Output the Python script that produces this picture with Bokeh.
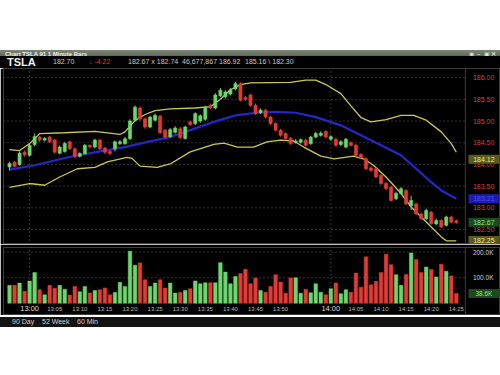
from bokeh.plotting import figure
from bokeh.models import ColumnDataSource, Div, Spacer, Range1d, Span
from bokeh.core.properties import value
from bokeh.layouts import column
from bokeh.embed import file_html
from bokeh.resources import INLINE

FONT = "Liberation Sans"

# ---- data: one bar per minute, minutes after 13:00 (12:56 .. 14:25)
bar_minute = list(range(-4, 86))

opens = [183.94, 184.05, 184.00, 184.28, 184.21, 184.46, 184.63, 184.56, 184.63, 184.56,
         184.26, 184.30, 184.52, 184.36, 184.19, 184.25, 184.44, 184.40, 184.56, 184.38,
         184.30, 184.36, 184.48, 184.48, 184.59, 185.02, 185.30, 185.05, 184.86, 185.02,
         185.11, 184.79, 184.64, 184.74, 184.82, 184.60, 184.98, 184.94, 185.00, 185.04,
         185.36, 185.30, 185.58, 185.56, 185.62, 185.74, 185.86, 185.54, 185.60, 185.36,
         185.19, 185.25, 185.09, 184.94, 184.79, 184.71, 184.60, 184.51, 184.51, 184.56,
         184.48, 184.63, 184.67, 184.76, 184.58, 184.58, 184.46, 184.40, 184.50, 184.44,
         184.23, 184.13, 183.92, 183.90, 183.75, 183.56, 183.48, 183.21, 183.33, 183.40,
         183.05, 183.09, 182.86, 182.75, 182.90, 182.63, 182.71, 182.60, 182.79, 182.70]
closes = [184.02, 183.96, 184.26, 184.22, 184.44, 184.64, 184.56, 184.60, 184.52, 184.28,
          184.40, 184.48, 184.36, 184.19, 184.25, 184.44, 184.40, 184.56, 184.36, 184.28,
          184.25, 184.52, 184.52, 184.59, 185.00, 185.32, 185.05, 184.86, 185.09, 185.13,
          184.73, 184.63, 184.80, 184.84, 184.62, 184.86, 184.92, 185.17, 185.12, 185.32,
          185.30, 185.60, 185.71, 185.67, 185.72, 185.86, 185.48, 185.50, 185.36, 185.17,
          185.25, 185.09, 184.94, 184.79, 184.67, 184.60, 184.48, 184.54, 184.57, 184.44,
          184.63, 184.71, 184.72, 184.63, 184.64, 184.44, 184.52, 184.58, 184.44, 184.21,
          184.15, 183.90, 183.86, 183.71, 183.56, 183.44, 183.17, 183.33, 183.44, 183.09,
          183.17, 182.86, 182.75, 182.94, 182.64, 182.71, 182.56, 182.79, 182.67, 182.66]
highs = [184.06, 184.08, 184.30, 184.32, 184.47, 184.71, 184.66, 184.63, 184.66, 184.59,
         184.43, 184.52, 184.55, 184.39, 184.28, 184.47, 184.46, 184.59, 184.59, 184.41,
         184.33, 184.55, 184.56, 184.63, 185.04, 185.36, 185.34, 185.08, 185.12, 185.17,
         185.14, 184.82, 184.84, 184.88, 184.86, 184.89, 185.01, 185.20, 185.15, 185.35,
         185.40, 185.64, 185.76, 185.71, 185.76, 185.90, 185.89, 185.58, 185.63, 185.40,
         185.29, 185.28, 185.12, 184.97, 184.82, 184.74, 184.63, 184.58, 184.60, 184.59,
         184.66, 184.75, 184.76, 184.79, 184.67, 184.62, 184.56, 184.61, 184.53, 184.47,
         184.26, 184.16, 183.95, 183.93, 183.78, 183.60, 183.51, 183.37, 183.48, 183.43,
         183.28, 183.12, 182.89, 182.98, 182.93, 182.75, 182.74, 182.82, 182.82, 182.73]
lows = [183.86, 183.93, 183.97, 184.18, 184.18, 184.42, 184.52, 184.53, 184.49, 184.25,
        184.23, 184.27, 184.33, 184.15, 184.16, 184.22, 184.37, 184.37, 184.33, 184.24,
        184.21, 184.30, 184.45, 184.45, 184.56, 184.99, 185.01, 184.82, 184.83, 184.99,
        184.70, 184.59, 184.61, 184.71, 184.58, 184.57, 184.89, 184.91, 184.96, 185.01,
        185.27, 185.27, 185.55, 185.52, 185.59, 185.71, 185.45, 185.46, 185.33, 185.14,
        185.16, 185.06, 184.91, 184.76, 184.64, 184.57, 184.45, 184.48, 184.48, 184.41,
        184.45, 184.60, 184.64, 184.60, 184.55, 184.41, 184.42, 184.37, 184.41, 184.18,
        184.12, 183.87, 183.83, 183.68, 183.53, 183.41, 183.14, 183.18, 183.30, 183.06,
        182.95, 182.83, 182.72, 182.72, 182.61, 182.60, 182.53, 182.57, 182.64, 182.63]
volume_k = [70, 70, 79, 47, 87, 120, 53, 33, 70, 59,
            70, 55, 32, 66, 45, 66, 40, 50, 53, 60,
            33, 42, 82, 66, 204, 149, 158, 92, 66, 79,
            92, 60, 79, 40, 42, 50, 57, 87, 76, 80,
            80, 80, 159, 122, 76, 105, 116, 133, 76, 99,
            50, 43, 66, 112, 83, 39, 99, 100, 39, 55,
            41, 76, 43, 33, 57, 79, 37, 53, 43, 118,
            63, 182, 72, 86, 120, 192, 151, 112, 70, 113,
            197, 171, 120, 142, 132, 103, 153, 125, 107, 38.6]

# Bollinger bands and moving average, read at points along each line
upper_t = [-4, -2, 0, 2, 7, 13, 18, 19, 21, 23, 25, 28, 33, 36, 38, 40, 42, 44, 52, 55, 57,
           59, 62, 64, 66, 68, 71, 74, 76.5, 79, 82, 84, 85]
upper_v = [184.34, 184.32, 184.48, 184.71, 184.73, 184.76, 184.69, 184.75, 185.01, 185.15,
           185.24, 185.28, 185.30, 185.33, 185.50, 185.72, 185.84, 185.88, 185.89, 185.94,
           185.94, 185.84, 185.63, 185.35, 185.08, 184.98, 185.03, 185.13, 185.13, 185.02,
           184.75, 184.48, 184.28]
lower_t = [-4, 0, 3, 6, 9.5, 13, 15.5, 19.4, 20.4, 22, 25.4, 28, 32, 36.7, 38.7, 41.4, 44.6,
           47.3, 50, 52.6, 54.6, 58, 60.7, 64.5, 66.5, 68.5, 71, 74, 76, 78, 80, 82, 83, 85]
lower_v = [183.47, 183.56, 183.52, 183.71, 183.90, 183.93, 184.06, 184.16, 184.14, 183.96,
           183.93, 184.01, 184.29, 184.46, 184.49, 184.40, 184.40, 184.52, 184.56, 184.54,
           184.40, 184.19, 184.13, 184.19, 184.13, 183.98, 183.71, 183.33, 183.02, 182.79,
           182.56, 182.33, 182.24, 182.24]
ma_t = [-4, 1, 7.5, 13.5, 19, 23.5, 28, 32, 36.7, 41, 45, 49, 53, 57, 62, 66, 70, 74, 77, 80, 82, 85]
ma_v = [183.88, 183.98, 184.16, 184.29, 184.40, 184.52, 184.63, 184.79, 184.98, 185.13,
        185.19, 185.21, 185.19, 185.09, 184.90, 184.67, 184.44, 184.21, 183.90, 183.59,
        183.40, 183.21]

price_ticks = [182.5, 183.0, 183.5, 184.0, 184.5, 185.0, 185.5, 186.0]
price_tick_labels = ["182.50", "183.00", "183.50", "184.00", "184.50", "185.00", "185.50", "186.00"]
volume_ticks = [100, 200]
volume_tick_labels = ["100.0K", "200.0K"]
time_ticks = [5, 10, 15, 20, 25, 30, 35, 40, 45, 50, 65, 70, 75, 80, 85]
time_tick_labels = ["13:05", "13:10", "13:15", "13:20", "13:25", "13:30", "13:35", "13:40",
                    "13:45", "13:50", "14:05", "14:10", "14:15", "14:20", "14:25"]
hour_ticks = [0, 60]
hour_labels = ["13:00", "14:00"]

# last-value tags on the price scale
tag_values = [184.12, 183.21, 182.67, 182.25]
tag_texts = ["184.12", "183.21", "182.67", "182.25"]
tag_fills = ["#5a5a1c", "#1c1cb0", "#1d4a1d", "#5a5a1c"]
tag_text_colors = ["#e8e890", "#4a4aff", "#8fe08f", "#e8e890"]
vol_tag_values = [38.6]
vol_tag_texts = ["38.6K"]

GREEN = "#6cd66c"
RED = "#e23b36"
GRIDC = "#5e5e5e"
EDGE = "#3c3c3c"

colors = [GREEN if c >= o else RED for o, c in zip(opens, closes)]
src = ColumnDataSource(dict(
    x=bar_minute, high=highs, low=lows,
    top=[max(o, c) for o, c in zip(opens, closes)],
    bottom=[min(o, c) for o, c in zip(opens, closes)],
    color=colors, vol=volume_k))

# x scale: 5.02 px per minute, plot area ends at PLOT_END, scale column to the right
X0, PLOT_END, X1 = -5.2, 86.8, 93.8
LABEL_X = PLOT_END + 1.5
TAG_X = PLOT_END + 3.7
xr = Range1d(X0, X1)


def base_fig(height, yr, top=0):
    f = figure(width=500, height=height, x_range=xr, y_range=yr,
               x_axis_location=None, y_axis_location=None,
               output_backend="svg", toolbar_location=None,
               min_border_left=3, min_border_right=0, min_border_top=top, min_border_bottom=0,
               background_fill_color="black", border_fill_color="black",
               outline_line_color=EDGE)
    f.grid.visible = False
    f.add_layout(Span(location=PLOT_END, dimension="height", line_color=EDGE, line_width=1))
    return f


# ---------------- price pane
p = base_fig(176, Range1d(182.155, 186.21))
p.segment(x0=X0, x1=PLOT_END, y0=price_ticks, y1=price_ticks, line_color=GRIDC,
          line_dash="1 3", line_width=1)
p.segment(x0=hour_ticks, x1=hour_ticks, y0=182.155, y1=186.21, line_color=GRIDC,
          line_dash="1 3", line_width=1)

p.line(upper_t, upper_v, line_color="#c8c85a", line_width=1.3)
p.line(lower_t, lower_v, line_color="#c8c85a", line_width=1.3)
p.line(ma_t, ma_v, line_color="#2626c8", line_width=2.2)
p.segment(x0="x", y0="high", x1="x", y1="low", line_color="color", line_width=1, source=src)
p.vbar(x="x", width=0.62, top="top", bottom="bottom", fill_color="color",
       line_color="color", line_width=0.6, source=src)

p.text(x=LABEL_X, y=price_ticks, text=price_tick_labels, text_font=value(FONT),
       text_font_size=value("7px"), text_color="#d8403a", text_align="left",
       text_baseline="middle")
p.rect(x=TAG_X, y=tag_values, width=31, height=9, width_units="screen",
       height_units="screen", fill_color=tag_fills, line_color=None)
p.text(x=TAG_X, y=tag_values, text=tag_texts, text_font=value(FONT),
       text_font_size=value("7px"), text_color=tag_text_colors, text_align="center",
       text_baseline="middle")

# ---------------- volume pane (includes the time-label row)
v = base_fig(71, Range1d(-48, 218.3), top=3)
v.segment(x0=X0, x1=PLOT_END, y0=volume_ticks, y1=volume_ticks, line_color=GRIDC,
          line_dash="1 3", line_width=1)
v.segment(x0=hour_ticks, x1=hour_ticks, y0=0, y1=218.3, line_color=GRIDC,
          line_dash="1 3", line_width=1)
v.vbar(x="x", width=0.7, top="vol", bottom=0, fill_color="color", line_color="color",
       line_width=0.5, source=src)
v.text(x=LABEL_X, y=volume_ticks, text=volume_tick_labels, text_font=value(FONT),
       text_font_size=value("6.5px"), text_color="#d0d0d0", text_align="left",
       text_baseline="middle")
v.rect(x=TAG_X, y=vol_tag_values, width=31, height=9, width_units="screen",
       height_units="screen", fill_color="#1d4a1d", line_color=None)
v.text(x=TAG_X, y=vol_tag_values, text=vol_tag_texts, text_font=value(FONT),
       text_font_size=value("6.5px"), text_color="#8fe08f", text_align="center",
       text_baseline="middle")
v.text(x=time_ticks, y=-22, text=time_tick_labels, text_font=value(FONT),
       text_font_size=value("6px"), text_color="#b8b8b8", text_align="center",
       text_baseline="middle")
v.text(x=hour_ticks, y=-22, text=hour_labels, text_font=value(FONT),
       text_font_size=value("7.5px"), text_color="#dcdcdc", text_align="center",
       text_baseline="middle")


# ---------------- window chrome (title bar, quote line, bottom bar)
def span(text, left, color="#c8c8c8", size=7, bold=False, lh=12):
    w = "font-weight:bold;" if bold else ""
    return (f'<span style="position:absolute;left:{left}px;top:0px;font-size:{size}px;'
            f'line-height:{lh}px;color:{color};white-space:nowrap;{w}">{text}</span>')


def bar(inner, height, bg):
    return (f'<div style="position:relative;width:500px;height:{height}px;overflow:hidden;'
            f'background:{bg};font-family:\'{FONT}\',Arial,sans-serif;">{inner}</div>')


title_html = bar(span("Chart TSLA 91 1 Minute Bars", 5, "#eef0ea", 6, True, 9)
                 + span("&#9673;", 469, "#dde0d8", 6, False, 9)
                 + span("&#8211;", 477, "#dde0d8", 6, True, 9)
                 + span("&#9635;", 484, "#dde0d8", 6, False, 9)
                 + span("&#10005;", 491, "#dde0d8", 6, True, 9),
                 9, "linear-gradient(#7e8877,#4e5846)")
quote_html = bar(span("TSLA", 7, "#f2f2f2", 11, True, 12)
                 + span("182.70", 53)
                 + span("&#8595; -4.22", 89, "#d8403a")
                 + span("182.67 x 182.74", 128)
                 + span("46,677,867", 182)
                 + span("186.92", 219)
                 + span("185.16 \\ 182.30", 245),
                 12, "#000000")
bottom_html = bar(span("90 Day", 12, "#cfcfcf", 7, False, 10)
                  + span("52 Week", 42, "#cfcfcf", 7, False, 10)
                  + span("60 Min", 77, "#cfcfcf", 7, False, 10),
                  10, "#141414")

title_div = Div(text=title_html, width=500, height=9, margin=0)
quote_div = Div(text=quote_html, width=500, height=12, margin=0)
bottom_div = Div(text=bottom_html, width=500, height=10, margin=0)

layout = column(Spacer(width=500, height=47, margin=0), title_div, quote_div, p, v, bottom_div,
                spacing=0)

open("out.html", "w").write(file_html(layout, INLINE))
